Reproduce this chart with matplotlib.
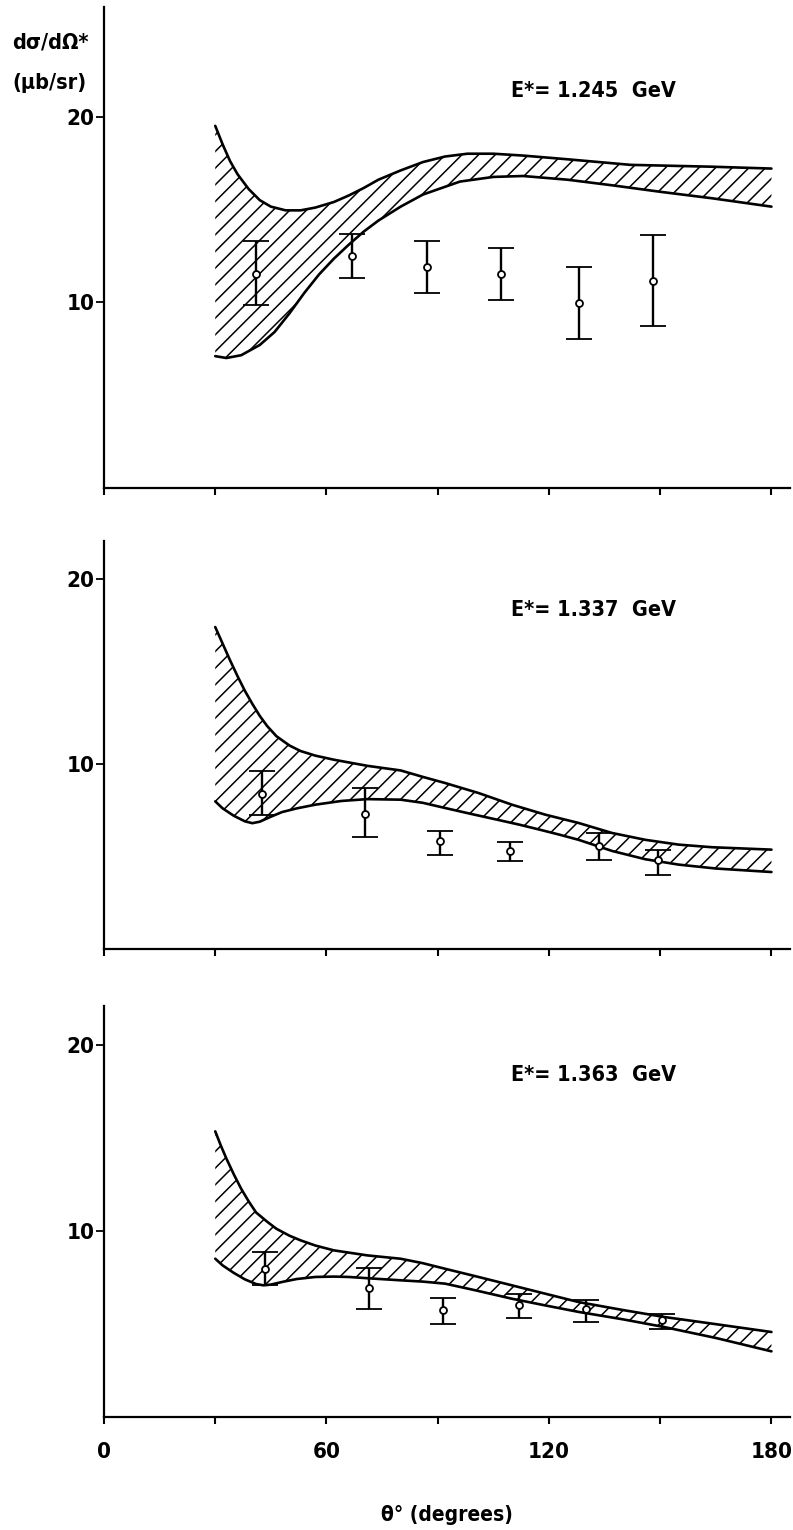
import matplotlib.pyplot as plt

plt.rcParams['font.family'] = ['DejaVu Sans']
plt.rcParams['font.stretch'] = 'condensed'
plt.rcParams['font.weight'] = 'bold'
plt.rcParams['axes.labelweight'] = 'bold'
plt.rcParams['hatch.linewidth'] = 1.1
plt.rcParams['hatch.color'] = 'black'

energies = ['1.245', '1.337', '1.363']

# predicted band: upper and lower edges (theta in degrees, dsigma/dOmega in mub/sr)
up_theta_1 = [30, 32, 34, 36, 39, 42, 45, 49, 53, 57, 62, 66, 70, 74, 80, 86, 92, 98, 105, 113, 125, 142, 164, 180]
up_val_1 = [19.5, 18.5, 17.6, 16.9, 16.1, 15.5, 15.15, 14.95, 14.95, 15.1, 15.4, 15.75, 16.15, 16.6, 17.1,
            17.55, 17.85, 18.0, 18.0, 17.9, 17.7, 17.4, 17.3, 17.2]
lo_theta_1 = [30, 33, 37, 42, 46, 50, 54, 58, 62, 66, 70, 74, 80, 86, 96, 105, 113, 125, 137, 150, 164, 180]
lo_val_1 = [7.1, 7.0, 7.15, 7.7, 8.4, 9.4, 10.5, 11.5, 12.35, 13.1, 13.8, 14.4, 15.15, 15.8, 16.5, 16.75,
            16.8, 16.6, 16.3, 15.95, 15.6, 15.15]

up_theta_2 = [30, 32, 34, 36, 38, 40, 42, 44, 46.5, 50, 53, 57, 62, 71, 80, 86, 92, 101, 110, 119, 128, 137,
              146, 155, 164, 180]
up_val_2 = [17.4, 16.5, 15.6, 14.75, 13.95, 13.25, 12.6, 12.05, 11.5, 11.0, 10.7, 10.45, 10.23, 9.9, 9.65,
            9.3, 8.97, 8.43, 7.8, 7.26, 6.81, 6.27, 5.9, 5.64, 5.5, 5.37]
lo_theta_2 = [30, 32, 35, 38, 40, 42, 45, 48, 52, 57, 64, 71, 80, 86, 92, 99, 106, 112, 117.5, 123, 128, 137,
              146, 155, 165, 180]
lo_val_2 = [7.98, 7.6, 7.2, 6.9, 6.8, 6.88, 7.15, 7.4, 7.6, 7.8, 8.0, 8.1, 8.07, 7.9, 7.62, 7.3, 6.99, 6.72,
            6.45, 6.17, 5.9, 5.3, 4.85, 4.56, 4.35, 4.16]

up_theta_3 = [30, 31.5, 33, 35, 37, 39, 41, 44, 46.5, 50, 53, 57, 62, 71, 80, 86, 92, 101, 110, 119, 128, 140,
              151, 164, 180]
up_val_3 = [15.36, 14.6, 13.9, 13.05, 12.27, 11.6, 11.0, 10.5, 10.12, 9.75, 9.5, 9.22, 8.96, 8.69, 8.51, 8.27,
            7.97, 7.53, 7.08, 6.63, 6.18, 5.75, 5.38, 5.02, 4.57]
lo_theta_3 = [30, 32, 35, 38, 41, 43, 45, 48, 52, 57, 62, 66, 72, 80, 86, 92, 100, 110, 119, 128, 140, 151,
              165, 180]
lo_val_3 = [8.51, 8.15, 7.75, 7.4, 7.15, 7.08, 7.12, 7.26, 7.42, 7.53, 7.55, 7.53, 7.45, 7.35, 7.28, 7.17,
            6.82, 6.36, 6.0, 5.65, 5.25, 4.84, 4.25, 3.53]

# measured cross sections with error bar ends
pt_theta_1 = [41, 67, 87, 107, 128, 148]
pt_val_1 = [11.55, 12.5, 11.9, 11.5, 9.95, 11.15]
pt_hi_1 = [13.3, 13.7, 13.3, 12.9, 11.9, 13.6]
pt_lo_1 = [9.85, 11.3, 10.5, 10.1, 8.05, 8.75]

pt_theta_2 = [42.5, 70.5, 90.5, 109.5, 133.5, 149.5]
pt_val_2 = [8.4, 7.3, 5.85, 5.3, 5.55, 4.8]
pt_hi_2 = [9.6, 8.7, 6.4, 5.8, 6.25, 5.35]
pt_lo_2 = [7.25, 6.05, 5.1, 4.75, 4.8, 4.0]

pt_theta_3 = [43.5, 71.5, 91.5, 112, 130, 150.5]
pt_val_3 = [7.95, 6.95, 5.75, 6.0, 5.8, 5.2]
pt_hi_3 = [8.85, 8.0, 6.4, 6.6, 6.3, 5.55]
pt_lo_3 = [7.1, 5.8, 5.0, 5.35, 5.1, 4.75]

bands = [
    (up_theta_1, up_val_1, lo_theta_1, lo_val_1),
    (up_theta_2, up_val_2, lo_theta_2, lo_val_2),
    (up_theta_3, up_val_3, lo_theta_3, lo_val_3),
]
points = [
    (pt_theta_1, pt_val_1, pt_hi_1, pt_lo_1),
    (pt_theta_2, pt_val_2, pt_hi_2, pt_lo_2),
    (pt_theta_3, pt_val_3, pt_hi_3, pt_lo_3),
]

fig = plt.figure(figsize=(7.93, 15.30), dpi=100)
W = 686 / 793
# [left, bottom, width, height], y range top and label height of each panel
boxes = [
    ([104 / 793, 1042 / 1530, W, 481 / 1530], 25.9, 21.4),
    ([104 / 793, 581 / 1530, W, 408 / 1530], 22.05, 18.3),
    ([104 / 793, 113 / 1530, W, 411 / 1530], 22.1, 18.4),
]

for i in range(3):
    rect, ytop, ylab = boxes[i]
    ax = fig.add_axes(rect)
    ut, uv, lt, lv = bands[i]
    # hatched region between the two curves
    ax.fill(ut + lt[::-1], uv + lv[::-1], facecolor='none', edgecolor='black',
            hatch='//', linewidth=0)
    ax.plot(ut, uv, color='black', lw=1.9, solid_capstyle='round', solid_joinstyle='round')
    ax.plot(lt, lv, color='black', lw=1.9, solid_capstyle='round', solid_joinstyle='round')

    th, v, hi, lo = points[i]
    yerr = [[a - b for a, b in zip(v, lo)], [b - a for a, b in zip(v, hi)]]
    ax.errorbar(th, v, yerr=yerr, fmt='o', ms=5, mfc='white', mec='black', mew=1.3,
                ecolor='black', elinewidth=1.7, capsize=9.5, capthick=1.7, zorder=5)

    ax.text(132, ylab, 'E*= ' + energies[i] + '  GeV', ha='center', va='center',
            fontsize=15.5)

    ax.set_xlim(0, 185)
    ax.set_ylim(0, ytop)
    for s in ['top', 'right']:
        ax.spines[s].set_visible(False)
    for s in ['left', 'bottom']:
        ax.spines[s].set_linewidth(1.6)
    ax.set_yticks([10, 20])
    ax.set_yticklabels(['10', '20'])
    ax.set_xticks([0, 30, 60, 90, 120, 150, 180])
    if i == 2:
        ax.set_xticklabels(['0', '', '60', '', '120', '', '180'])
    else:
        ax.set_xticklabels([''] * 7)
    ax.tick_params(axis='y', direction='out', length=6, width=1.3, pad=1, labelsize=16)
    ax.tick_params(axis='x', direction='out', length=5, width=1.5, pad=13, labelsize=16)
    if i == 2:
        ax.set_xlabel('θ° (degrees)', fontsize=15, labelpad=31)

fig.text(12 / 793, 1 - 43 / 1530, 'dσ/dΩ*', fontsize=15.5, va='center', ha='left')
fig.text(12 / 793, 1 - 83 / 1530, '(μb/sr)', fontsize=15.5, va='center', ha='left')

fig.savefig('out.png', dpi=100)
